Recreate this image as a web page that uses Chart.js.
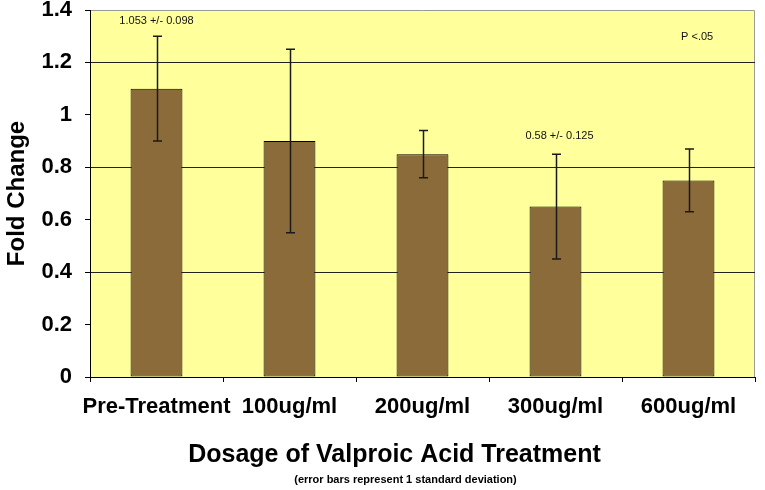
<!doctype html>
<html lang="en">
  <head>
    <meta charset="UTF-8" />
    <title>Fold Change by Valproic Acid Dosage</title>
    <script src="https://cdn.jsdelivr.net/npm/chart.js"></script>
    <style>
      html, body { margin: 0; padding: 0; background: #ffffff; }
      #wrap { width: 765px; height: 490px; }
    </style>
  </head>
  <body>
    <div id="wrap">
      <canvas id="foldChart" width="765" height="490"></canvas>
    </div>

    <script>
      // Data
      const dosages = ["Pre-Treatment", "100ug/ml", "200ug/ml", "300ug/ml", "600ug/ml"];
      const foldChange = [1.1, 0.9, 0.85, 0.65, 0.75];
      const errLow = [0.9, 0.55, 0.76, 0.45, 0.63];
      const errHigh = [1.3, 1.25, 0.94, 0.85, 0.87];

      // Text notes placed in data space (category index, fold change)
      const noteTexts = ["1.053 +/- 0.098", "0.58 +/- 0.125", "P <.05"];
      const noteCategory = [0, 3.03, 4.065];
      const noteValue = [1.358, 0.918, 1.297];

      const xTitle = "Dosage of Valproic Acid Treatment";
      const xNote = "(error bars represent 1 standard deviation)";

      const FONT = "'Liberation Sans', Arial, Helvetica, sans-serif";

      // yellow plot background with grey top/right edge
      const plotBackground = {
        id: "plotBackground",
        beforeDraw(chart) {
          const { ctx, chartArea: a } = chart;
          ctx.save();
          ctx.fillStyle = "#ffff9c";
          ctx.fillRect(a.left, a.top, a.right - a.left, a.bottom - a.top);
          ctx.strokeStyle = "#9a9a9a";
          ctx.lineWidth = 1;
          ctx.beginPath();
          ctx.moveTo(a.left, a.top + 0.5);
          ctx.lineTo(a.right - 0.5, a.top + 0.5);
          ctx.lineTo(a.right - 0.5, a.bottom);
          ctx.stroke();
          ctx.restore();
        },
      };

      // error bars, notes and the bottom titles
      const errorBars = {
        id: "errorBars",
        afterDatasetsDraw(chart) {
          const { ctx, chartArea: a } = chart;
          const xs = chart.scales.x;
          const ys = chart.scales.y;
          const meta = chart.getDatasetMeta(0);
          ctx.save();
          ctx.strokeStyle = "#1a1a1a";
          ctx.lineWidth = 1.5;
          meta.data.forEach((bar, i) => {
            const x = Math.round(bar.x) + 0.5;
            const yTop = ys.getPixelForValue(errHigh[i]);
            const yBot = ys.getPixelForValue(errLow[i]);
            ctx.beginPath();
            ctx.moveTo(x, yTop);
            ctx.lineTo(x, yBot);
            ctx.moveTo(x - 4.5, yTop);
            ctx.lineTo(x + 4.5, yTop);
            ctx.moveTo(x - 4.5, yBot);
            ctx.lineTo(x + 4.5, yBot);
            ctx.stroke();
          });
          ctx.fillStyle = "#111";
          ctx.font = "11px " + FONT;
          ctx.textAlign = "center";
          ctx.textBaseline = "middle";
          noteTexts.forEach((t, i) => {
            ctx.fillText(t, xs.getPixelForValue(noteCategory[i]), ys.getPixelForValue(noteValue[i]));
          });

          // axis title + note under the category labels
          const cx = (a.left + a.right) / 2;
          ctx.fillStyle = "#000";
          ctx.font = "bold 25px " + FONT;
          ctx.fillText(xTitle, cx - 28, a.bottom + 78);
          ctx.font = "bold 11px " + FONT;
          ctx.fillText(xNote, cx - 17, a.bottom + 103);
          ctx.restore();
        },
      };

      const ctx = document.getElementById("foldChart").getContext("2d");
      new Chart(ctx, {
        type: "bar",
        data: {
          labels: dosages,
          datasets: [
            {
              label: "Fold Change",
              data: foldChange,
              backgroundColor: "#8c6b3b",
              borderColor: "#000000",
              borderWidth: 1,
              borderSkipped: false,
              barPercentage: 0.39,
              categoryPercentage: 1.0,
            },
          ],
        },
        options: {
          responsive: false,
          animation: false,
          devicePixelRatio: 1,
          layout: { padding: { top: 10, right: 10, left: 0, bottom: 0 } },
          scales: {
            x: {
              offset: true,
              grid: {
                offset: true,
                drawOnChartArea: false,
                drawTicks: true,
                tickLength: 5,
                tickColor: "#000",
              },
              border: { color: "#000", width: 1 },
              ticks: {
                color: "#000",
                font: { family: FONT, size: 22, weight: "bold" },
                padding: 12,
                maxRotation: 0,
                autoSkip: false,
              },
              afterFit(scale) {
                scale.height = 113;
              },
            },
            y: {
              min: 0,
              max: 1.4,
              ticks: {
                stepSize: 0.2,
                color: "#000",
                font: { family: FONT, size: 22, weight: "bold" },
                padding: 13,
                callback: (v) => String(Math.round(v * 10) / 10),
              },
              grid: {
                color: (c) => {
                  const v = Math.round(c.tick.value * 10);
                  return v > 0 && v < 14 && v % 4 === 0 ? "#222" : "rgba(0,0,0,0)";
                },
                tickColor: "#000",
                tickLength: 5,
                lineWidth: 1,
              },
              border: { color: "#000", width: 1 },
              title: {
                display: true,
                text: "Fold Change",
                color: "#000",
                font: { family: FONT, size: 24, weight: "bold" },
                padding: { top: 3, bottom: 0 },
              },
              afterFit(scale) {
                scale.width = 90;
                scale.paddingTop = 0;
                scale.paddingBottom = 0;
              },
            },
          },
          plugins: {
            legend: { display: false },
            tooltip: { enabled: false },
            title: { display: false },
          },
        },
        plugins: [plotBackground, errorBars],
      });
    </script>
  </body>
</html>
